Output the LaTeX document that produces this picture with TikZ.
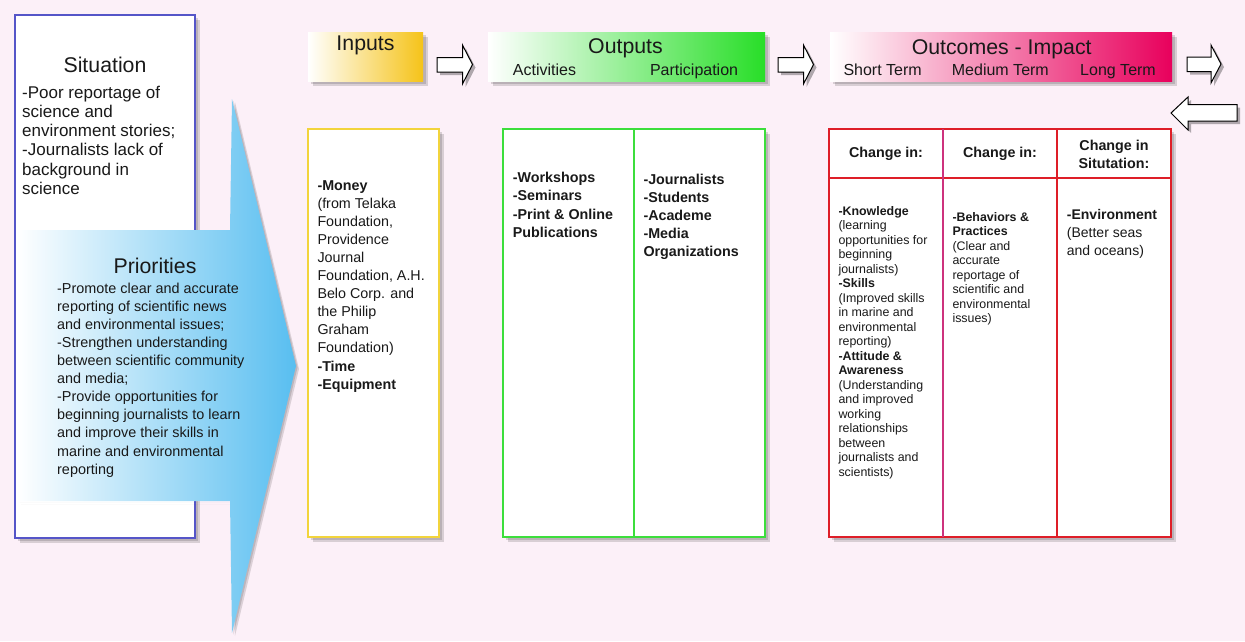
\documentclass[tikz,border=0pt]{standalone}
\usepackage{fontspec}
\setmainfont{Liberation Sans}
\usetikzlibrary{calc}
\pgfdeclarelayer{under}
\pgfsetlayers{under,main}
\definecolor{bg}{RGB}{252,240,248}
\definecolor{sitblue}{RGB}{85,85,200}
\definecolor{sky}{RGB}{88,190,240}
\definecolor{inC}{RGB}{245,195,25}
\definecolor{inB}{RGB}{242,212,60}
\definecolor{outC}{RGB}{40,222,40}
\definecolor{outB}{RGB}{60,222,60}
\definecolor{ocC}{RGB}{232,0,92}
\definecolor{ocB}{RGB}{222,30,40}
\definecolor{ocM}{RGB}{205,50,125}
\definecolor{ink}{RGB}{25,25,25}
\begin{document}
\begin{tikzpicture}[x=1pt,y=-1pt,
  box/.style={rectangle,fill=white,inner sep=0,anchor=north west},
  edge/.style={line width=1.9pt},
  hdr/.style={rectangle,inner sep=0,anchor=north west},
  sh/.style={fill=black,opacity=.14},
  barrow/.style={draw=black,line width=1pt,fill=white,line join=miter},
  txt/.style={inner sep=0,anchor=north west,align=left,text=ink},
  one/.style={inner sep=0,text=ink},
  big/.style={font=\fontsize{21.3}{24}\selectfont},
  sub/.style={font=\fontsize{16}{19}\selectfont},
  t14/.style={font=\fontsize{14.3}{18.1}\selectfont},
  t12/.style={font=\fontsize{12.4}{14.5}\selectfont},
]
\begin{pgfonlayer}{under}
\fill[bg] (0,0) rectangle (1245,641);
\end{pgfonlayer}
\useasboundingbox (0,0) rectangle (1245,641);

% situation box
\node[box,minimum width=180,minimum height=523] (sit) at (15,15) {};
\draw[edge,sitblue] (sit.north west) rectangle (sit.south east);

% big arrow shadow and arrow
\fill[black,opacity=.13] (21,504) -- (233,504) -- (235,102) -- (299,369) -- (235,636) -- (233,504) -- cycle;
\fill[black,opacity=.13] (19.5,502.5) -- (231.5,502.5) -- (233.5,100.5) -- (297.5,367.5) -- (233.5,634.5) -- (231.5,502.5) -- cycle;
\path[left color=white,right color=sky]
  (17,230) -- (230,230) -- (232,99) -- (296,366) -- (232,633) -- (230,501) -- (17,501) -- cycle;

\node[one,big,anchor=base] (sittitle) at (105,72) {Situation};
\node[txt,font=\fontsize{17}{19.3}\selectfont] (sittxt) at (22,85.5)
  {-Poor reportage of\\science and\\environment stories;\\-Journalists lack of\\background in\\science};

\node[one,big,anchor=base] (prtitle) at (155,273) {Priorities};
\node[txt,font=\fontsize{14.4}{18.1}\selectfont] (prtxt) at (57,282.5)
  {-Promote clear and accurate\\reporting of scientific news\\and environmental issues;\\-Strengthen understanding\\between scientific community\\and media;\\-Provide opportunities for\\beginning journalists to learn\\and improve their skills in\\marine and environmental\\reporting};

% headers
\node[hdr,left color=white,right color=inC,minimum width=115,minimum height=49] (inhdr) at (308,32) {};
\node[one,big,anchor=base] (inlbl) at (365.5,50.7) {Inputs};

\node[hdr,left color=white,right color=outC,minimum width=277,minimum height=49] (outhdr) at (488,32) {};
\node[one,big,anchor=base] (outlbl) at (625.5,53) {Outputs};
\node[one,sub,anchor=base west] (act) at (512.7,75) {Activities};
\node[one,sub,anchor=base east] (part) at (738.3,75) {Participation};

\node[hdr,left color=white,right color=ocC,minimum width=342,minimum height=49] (ochdr) at (830,32) {};
\node[one,big,anchor=base] (oclbl) at (1001.7,54) {Outcomes - Impact};
\node[one,sub,anchor=base west] (st) at (843.3,75) {Short Term};
\node[one,sub,anchor=base west] (mt) at (951.7,75) {Medium Term};
\node[one,sub,anchor=base east] (lt) at (1156,75) {Long Term};

% block arrows
\draw[barrow] (437,57.5) -- (462.5,57.5) -- (462.5,45) -- (472.5,64.5) -- (462.5,84) -- (462.5,72) -- (437,72) -- cycle;
\draw[barrow] (778,57.5) -- (803.5,57.5) -- (803.5,45) -- (813.5,64.5) -- (803.5,84) -- (803.5,72) -- (778,72) -- cycle;
\draw[barrow] (1187,57) -- (1211,57) -- (1211,45) -- (1221,64) -- (1211,83) -- (1211,71.5) -- (1187,71.5) -- cycle;
\draw[barrow] (1237,104.5) -- (1188,104.5) -- (1188,97) -- (1171,113) -- (1188,130) -- (1188,121) -- (1237,121) -- cycle;

% inputs box
\node[box,minimum width=131,minimum height=408] (inbox) at (308,129) {};
\draw[edge,inB] (inbox.north west) rectangle (inbox.south east);
\node[txt,t14] (intxt) at (317.3,180)
  {\textbf{-Money}\\(from Telaka\\Foundation,\\Providence\\Journal\\Foundation, A.H.\\Belo Corp. and\\the Philip\\Graham\\Foundation)\\\textbf{-Time}\\\textbf{-Equipment}};

% outputs box
\node[box,minimum width=262,minimum height=408] (outbox) at (503,129) {};
\draw[edge,outB] (outbox.north west) rectangle (outbox.south east);
\draw[edge,outB] ($(outbox.north west)+(131,0)$) -- ($(outbox.south west)+(131,0)$);
\node[txt,t14] (acttxt) at (512.7,172.3)
  {\textbf{-Workshops}\\\textbf{-Seminars}\\\textbf{-Print \& Online}\\\textbf{Publications}};
\node[txt,t14] (parttxt) at (643.3,174)
  {\textbf{-Journalists}\\\textbf{-Students}\\\textbf{-Academe}\\\textbf{-Media}\\\textbf{Organizations}};

% outcomes box
\node[box,minimum width=342,minimum height=408] (ocbox) at (829,129) {};
\draw[edge,ocB] (ocbox.north west) rectangle (ocbox.south east);
\draw[edge,ocB] ($(ocbox.north west)+(0,49)$) -- ($(ocbox.north east)+(0,49)$);
\draw[edge,ocM] ($(ocbox.north west)+(114,0)$) -- ($(ocbox.south west)+(114,0)$);
\draw[edge,ocB] ($(ocbox.north west)+(228,0)$) -- ($(ocbox.south west)+(228,0)$);

\node[one,t14,anchor=base] (h1) at (886,157.5) {\textbf{Change in:}};
\node[one,t14,anchor=base] (h2) at (1000,157.5) {\textbf{Change in:}};
\node[txt,anchor=north,align=center,font=\fontsize{14.3}{17.7}\selectfont] (h3) at (1114,140)
  {\textbf{Change in}\\\textbf{Situtation:}};

\node[txt,t12] (c1) at (838.3,206)
  {\textbf{-Knowledge}\\(learning\\opportunities for\\beginning\\journalists)\\\textbf{-Skills}\\(Improved skills\\in marine and\\environmental\\reporting)\\\textbf{-Attitude \&}\\\textbf{Awareness}\\(Understanding\\and improved\\working\\relationships\\between\\journalists and\\scientists)};
\node[txt,t12] (c2) at (952.3,212)
  {\textbf{-Behaviors \&}\\\textbf{Practices}\\(Clear and\\accurate\\reportage of\\scientific and\\environmental\\issues)};
\node[txt,font=\fontsize{14}{18}\selectfont] (c3) at (1066.7,209)
  {\textbf{-Environment}\\(Better seas\\and oceans)};

% shadows (drawn beneath everything on the lower layer)
\begin{pgfonlayer}{under}
\foreach \n in {sit,inbox,outbox,ocbox,inhdr,outhdr,ochdr}{
  \fill[sh] ($(\n.north west)+(5,5)$) rectangle ($(\n.south east)+(5,5)$);
  \fill[sh] ($(\n.north west)+(3,3)$) rectangle ($(\n.south east)+(3,3)$);
}
\fill[sh,opacity=.3] (440,60.5) -- (465.5,60.5) -- (465.5,48) -- (475.5,67.5) -- (465.5,87) -- (465.5,75) -- (440,75) -- cycle;
\fill[sh,opacity=.3] (781,60.5) -- (806.5,60.5) -- (806.5,48) -- (816.5,67.5) -- (806.5,87) -- (806.5,75) -- (781,75) -- cycle;
\fill[sh,opacity=.3] (1190,60) -- (1214,60) -- (1214,48) -- (1224,67) -- (1214,86) -- (1214,74.5) -- (1190,74.5) -- cycle;
\fill[sh,opacity=.3] (1240,107.5) -- (1191,107.5) -- (1191,100) -- (1174,116) -- (1191,133) -- (1191,124) -- (1240,124) -- cycle;
\end{pgfonlayer}
\end{tikzpicture}
\end{document}
